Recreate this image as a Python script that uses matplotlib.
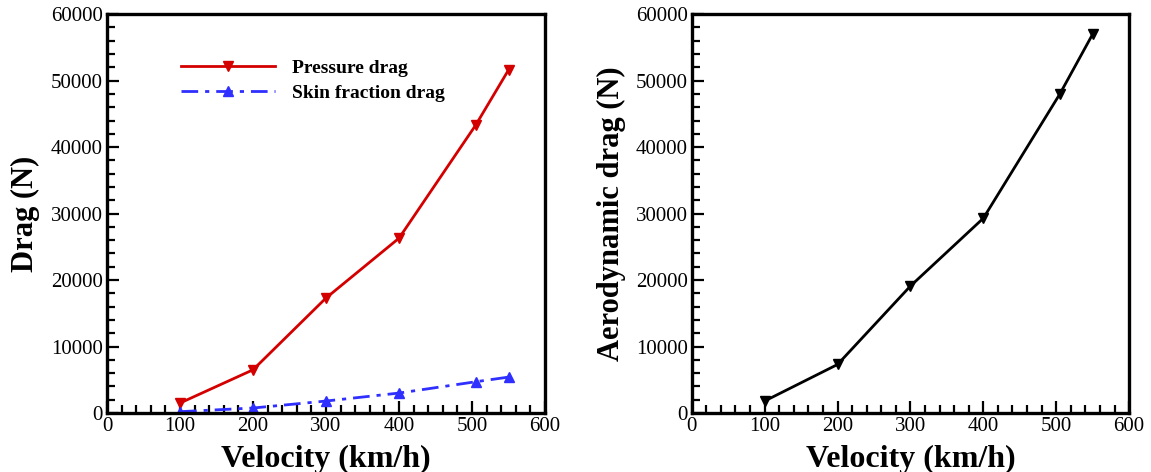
import matplotlib
matplotlib.use("Agg")
import matplotlib.pyplot as plt
from matplotlib.ticker import MultipleLocator

velocity = [100, 200, 300, 400, 505, 550]
pressure_drag = [1500, 6500, 17300, 26300, 43300, 51600]
skin_drag = [200, 750, 1800, 3000, 4700, 5400]
velocity_total = [100, 200, 300, 400, 505, 550]
aero_drag = [1800, 7300, 19100, 29300, 48000, 57000]

plt.rcParams['font.family'] = ['Liberation Serif', 'DejaVu Serif']

fig = plt.figure(figsize=(11.51, 4.72), dpi=100)
ax1 = fig.add_axes([0.093, 0.125, 0.3805, 0.845])
ax2 = fig.add_axes([0.601, 0.125, 0.380, 0.845])

ax1.plot(velocity, pressure_drag, color='#d40000', lw=2.0, marker='v', ms=7.5,
         label='Pressure drag')
ax1.plot(velocity, skin_drag, color='#2f2fff', lw=2.0, ls=(0, (6, 2.5, 1.5, 2.5)),
         marker='^', ms=7.5, label='Skin fraction drag')
ax2.plot(velocity_total, aero_drag, color='black', lw=2.0, marker='v', ms=7.5)

for ax, ylab, pad in ((ax1, 'Drag (N)', 8), (ax2, 'Aerodynamic drag (N)', 7)):
    ax.set_xlim(0, 600)
    ax.set_ylim(0, 60000)
    ax.xaxis.set_major_locator(MultipleLocator(100))
    ax.xaxis.set_minor_locator(MultipleLocator(20))
    ax.yaxis.set_major_locator(MultipleLocator(10000))
    ax.yaxis.set_minor_locator(MultipleLocator(2000))
    ax.tick_params(which='both', direction='in', top=False, right=False,
                   width=1.6, labelsize=15, colors='black')
    ax.tick_params(which='major', length=8.5, pad=3)
    ax.tick_params(which='minor', length=5.5)
    for s in ax.spines.values():
        s.set_linewidth(2.4)
    ax.set_xlabel('Velocity (km/h)', fontsize=23, fontweight='bold', labelpad=6)
    ax.set_ylabel(ylab, fontsize=22, fontweight='bold', labelpad=pad)

leg = ax1.legend(loc='upper left', bbox_to_anchor=(0.13, 0.93), frameon=False,
                 handlelength=4.8, prop={'weight': 'bold', 'size': 14},
                 labelspacing=0.35, handletextpad=0.9, markerscale=0.9)

fig.savefig('out.png', dpi=100)
